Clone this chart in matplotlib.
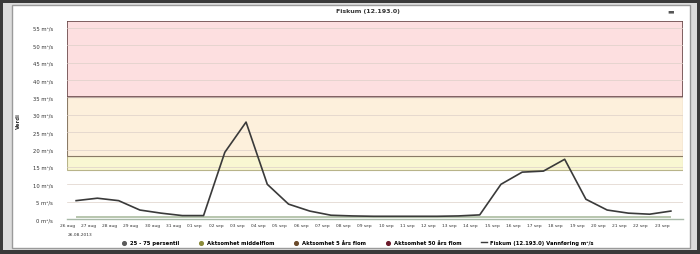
import numpy as np
import matplotlib.pyplot as plt
from matplotlib.patches import Rectangle

# ==========================================================
# DATA
# ==========================================================

day_labels = [
    "26 aug", "27 aug", "28 aug", "29 aug", "30 aug", "31 aug",
    "01 sep", "02 sep", "03 sep", "04 sep", "05 sep", "06 sep",
    "07 sep", "08 sep", "09 sep", "10 sep", "11 sep", "12 sep",
    "13 sep", "14 sep", "15 sep", "16 sep", "17 sep", "18 sep",
    "19 sep", "20 sep", "21 sep", "22 sep", "23 sep",
]

flow = [
    5.3, 6.0, 5.3, 2.6, 1.7, 1.0, 1.0, 19.2, 27.9, 10.0,
    4.3, 2.3, 1.1, 0.9, 0.8, 0.8, 0.8, 0.8, 0.9, 1.2,
    10.0, 13.5, 13.8, 17.2, 5.7, 2.6, 1.7, 1.4, 2.3,
]

pct25 = [0.3] * 29
pct75 = [0.8] * 29

middelflom = 14.1
flom5 = 18.1
flom50 = 35.0
y_top = 57

y_ticks = [0, 5, 10, 15, 20, 25, 30, 35, 40, 45, 50, 55]
y_labels = [f"{v} m³/s" for v in y_ticks]

legend_names = [
    "25 - 75 persentil",
    "Aktsomhet middelflom",
    "Aktsomhet 5 års flom",
    "Aktsomhet 50 års flom",
    "Fiskum (12.193.0) Vannføring m³/s",
]

# ==========================================================
# FIGURE
# ==========================================================

fig = plt.figure(figsize=(7, 2.55), dpi=100, facecolor="#3a3a3a")

# window panel (behind the axes)
fig.patches.append(Rectangle((0.004, 0.015), 0.992, 0.97,
                             transform=fig.transFigure, zorder=-2,
                             facecolor="#dcdcdc", edgecolor="none"))
fig.patches.append(Rectangle((0.017, 0.024), 0.969, 0.952,
                             transform=fig.transFigure, zorder=-1,
                             facecolor="white", edgecolor="#9a9a9a", lw=1))

ax = fig.add_axes([0.096, 0.137, 0.88, 0.777])
ax.set_facecolor("white")

x = np.arange(len(flow)) + 0.42

# threshold bands
ax.axhspan(middelflom, flom5, facecolor="#f9f7d2", edgecolor="#b8b48a", lw=0.8, zorder=0)
ax.axhspan(flom5, flom50, facecolor="#fdf0dc", edgecolor="#8a7a66", lw=0.8, zorder=0)
ax.axhspan(flom50, y_top, facecolor="#fddfe0", edgecolor="#6a4a4a", lw=1.2, zorder=0)

for v in y_ticks[1:]:
    ax.axhline(v, color="#ddd0c8", lw=0.5, zorder=0.5)

# percentile band
ax.fill_between(x, pct25, pct75, color="#b9c7b0", lw=0, zorder=1)

# flow line
ax.plot(x, flow, color="#3a3a3a", lw=1.2, zorder=3)

ax.set_xlim(0, 29)
ax.set_ylim(0, y_top)

ax.set_xticks(np.arange(len(day_labels)))
ax.set_xticklabels(day_labels, fontsize=3.2, color="#333333")
ax.set_yticks(y_ticks)
ax.set_yticklabels(y_labels, fontsize=3.8, color="#333333")
ax.tick_params(axis="x", length=0, pad=3)
ax.tick_params(axis="y", length=0, pad=10)

ax.set_ylabel("Verdi", fontsize=3.8, color="#333333", labelpad=9,
              fontweight="bold")

for s in ["top", "right", "left"]:
    ax.spines[s].set_visible(False)
ax.spines["bottom"].set_color("#a8b8a8")
ax.spines["bottom"].set_linewidth(1.0)

ax.text(0.0, -0.065, "26.08.2013", transform=ax.transAxes,
        fontsize=3.2, color="#333333", ha="left", va="top")

fig.text(0.525, 0.955, "Fiskum (12.193.0)", fontsize=4.5,
         fontweight="bold", color="#333333", ha="center", va="center")
fig.text(0.958, 0.955, "▬", fontsize=5, color="#555555", ha="center", va="center")

# legend
h1 = ax.scatter([], [], s=7, color="#5a5a5a")
h2 = ax.scatter([], [], s=7, color="#8a8a3a")
h3 = ax.scatter([], [], s=7, color="#6a4a2a")
h4 = ax.scatter([], [], s=7, color="#6a1a2a")
h5, = ax.plot([], [], color="#3a3a3a", lw=1)
fig.legend([h1, h2, h3, h4, h5], legend_names,
           loc="center", bbox_to_anchor=(0.51, 0.045),
           ncol=5, frameon=False,
           prop={"size": 3.8, "weight": "bold"},
           handlelength=1.2, columnspacing=3.6, handletextpad=0.5)

fig.savefig("out.png", dpi=100, facecolor=fig.get_facecolor())
